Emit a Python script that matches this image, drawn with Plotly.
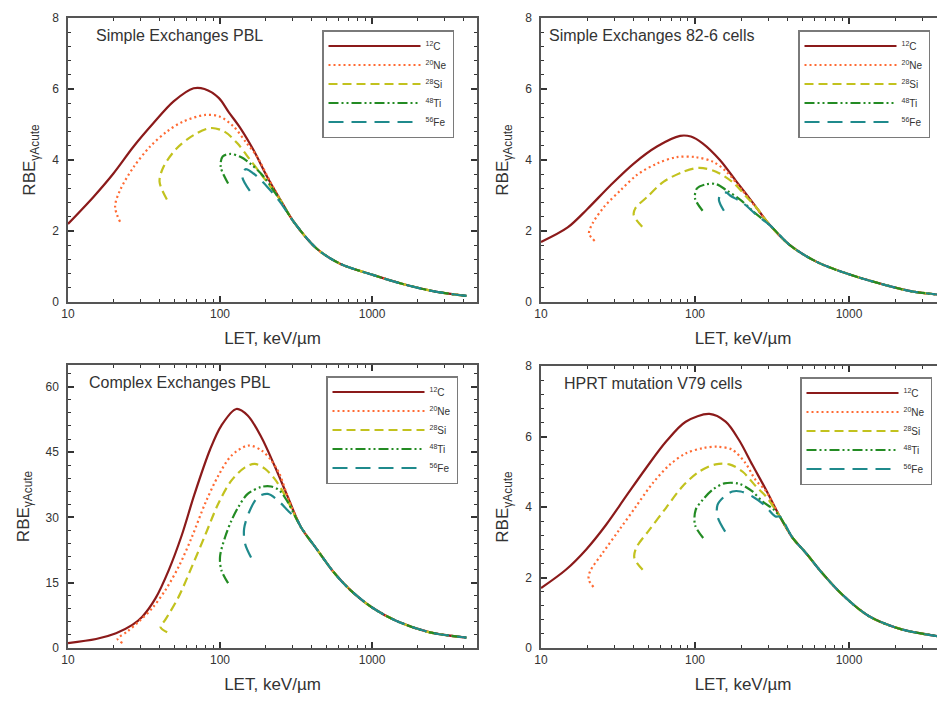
import plotly.graph_objects as go

# ---------------- data ----------------
IONS = ["<sup>12</sup>C", "<sup>20</sup>Ne", "<sup>28</sup>Si", "<sup>48</sup>Ti", "<sup>56</sup>Fe"]
COLORS = ["#8b1a1a", "#ff6a33", "#c2c21e", "#238b23", "#1f8a8c"]
DASHES = ["solid", "2px,3px", "9px,5px", "10px,3px,2px,3px,2px,3px", "15px,8px"]

PANEL_TITLES = ["Simple Exchanges PBL", "Simple Exchanges 82-6 cells",
                "Complex Exchanges PBL", "HPRT mutation V79 cells"]

# Panel 1: Simple Exchanges PBL
P1_TAIL_LET = [305, 433, 615, 1000, 1550, 2560, 4170]
P1_TAIL_RBE = [2.26, 1.5, 1.08, 0.77, 0.52, 0.3, 0.17]
P1_C_LET = [10, 14.7, 19.9, 27, 36.5, 49.5, 67, 79, 98, 114, 136, 166, 204, 250]
P1_C_RBE = [2.2, 2.96, 3.62, 4.38, 5.04, 5.65, 6.02, 6.0, 5.75, 5.35, 4.9, 4.28, 3.53, 2.87]
P1_NE_LET = [22, 20.4, 22, 27, 34.7, 44.7, 57, 80, 100, 123, 150, 175, 210, 250]
P1_NE_RBE = [2.26, 2.68, 3.15, 3.8, 4.38, 4.8, 5.08, 5.27, 5.22, 4.94, 4.47, 4.1, 3.45, 2.87]
P1_SI_LET = [44.7, 40, 42.5, 52, 67, 87, 107, 130, 158, 194, 250]
P1_SI_RBE = [2.89, 3.39, 3.81, 4.33, 4.7, 4.9, 4.8, 4.47, 4.0, 3.5, 2.86]
P1_TI_LET = [113, 101, 104, 117, 136, 158, 194, 250]
P1_TI_RBE = [3.34, 3.81, 4.1, 4.17, 4.09, 3.9, 3.53, 2.84]
P1_FE_LET = [157, 140, 147, 166, 204, 250]
P1_FE_RBE = [3.13, 3.53, 3.74, 3.62, 3.25, 2.8]

# Panel 2: Simple Exchanges 82-6 cells
P2_TAIL_LET = [307, 413, 617, 1000, 1750, 2560, 4170]
P2_TAIL_RBE = [2.16, 1.6, 1.13, 0.78, 0.47, 0.3, 0.19]
P2_C_LET = [10, 14.9, 20, 28.3, 40, 56.6, 80, 94, 112, 145, 186, 239]
P2_C_RBE = [1.69, 2.1, 2.62, 3.29, 3.9, 4.38, 4.68, 4.66, 4.47, 4.0, 3.39, 2.78]
P2_NE_LET = [22.3, 20.5, 21.6, 25.7, 32.9, 42, 56.6, 76, 101, 131, 160, 198, 239]
P2_NE_RBE = [1.72, 1.93, 2.21, 2.68, 3.15, 3.58, 3.9, 4.08, 4.08, 3.95, 3.67, 3.2, 2.76]
P2_SI_LET = [45.4, 40, 41, 48.9, 62.6, 84, 107, 137, 177, 216, 250]
P2_SI_RBE = [2.12, 2.45, 2.64, 2.96, 3.39, 3.67, 3.78, 3.67, 3.36, 2.96, 2.66]
P2_TI_LET = [112, 100, 103, 119, 137, 160, 198, 239]
P2_TI_RBE = [2.57, 2.92, 3.2, 3.32, 3.32, 3.15, 2.87, 2.55]
P2_FE_LET = [154, 143, 147, 160, 169, 206, 251]
P2_FE_RBE = [2.57, 2.87, 3.06, 3.08, 3.0, 2.78, 2.45]

# Panel 3: Complex Exchanges PBL
P3_TAIL_LET = [340, 437, 556, 720, 1000, 1450, 2400, 4170]
P3_TAIL_RBE = [27.8, 22.5, 17.5, 13.3, 9.3, 6.2, 3.6, 2.4]
P3_C_LET = [10, 15.3, 20.7, 26.5, 30.8, 37.6, 46, 56, 68, 86, 102, 128, 152, 187, 228, 279]
P3_C_RBE = [1.14, 2.06, 3.4, 5.3, 7.2, 11.4, 17.9, 25.9, 35.4, 45.6, 51.1, 54.9, 53.4, 48.4, 41.9, 34.7]
P3_NE_LET = [22.8, 21.2, 24.6, 29.3, 35.8, 43.7, 53.5, 65.3, 79.8, 97.5, 119, 153, 187, 217, 246, 279]
P3_NE_RBE = [1.14, 2.06, 3.81, 6.1, 9.15, 13.3, 18.7, 25.5, 33.2, 39.6, 44.2, 46.5, 45.4, 43.1, 40, 34.7]
P3_SI_LET = [44.9, 40.6, 43.7, 53.5, 65.3, 79.8, 97.5, 119, 146, 169, 197, 228, 264]
P3_SI_RBE = [3.6, 4.8, 6.5, 11.8, 18.7, 25.9, 33.2, 38.5, 41.5, 42.3, 41.2, 38.9, 35.4]
P3_TI_LET = [113, 102, 100, 108, 119, 132, 152, 187, 217, 246, 279]
P3_TI_RBE = [14.9, 17.9, 21, 25.5, 29.3, 32.4, 35.4, 37, 37.1, 36.2, 33.5]
P3_FE_LET = [160, 146, 144, 157, 178, 206, 233, 279, 323]
P3_FE_RBE = [20.8, 24, 27.4, 31.6, 34.7, 35.4, 34.3, 31.6, 29.3]

# Panel 4: HPRT mutation V79 cells
P4_TAIL_LET = [355, 431, 526, 671, 906, 1350, 2230, 4170]
P4_TAIL_RBE = [3.73, 3.12, 2.69, 2.12, 1.51, 0.9, 0.52, 0.31]
P4_C_LET = [10, 14.5, 19.6, 26.4, 35.6, 48, 64.7, 87, 124, 158, 193, 236, 289]
P4_C_RBE = [1.7, 2.22, 2.79, 3.49, 4.3, 5.1, 5.85, 6.42, 6.64, 6.42, 5.9, 5.19, 4.49]
P4_NE_LET = [21.9, 20.4, 20.8, 25.1, 32.2, 41.3, 53, 68.2, 87, 112, 140, 175, 213, 247, 289]
P4_NE_RBE = [1.73, 1.94, 2.17, 2.69, 3.35, 4.01, 4.67, 5.19, 5.52, 5.67, 5.71, 5.62, 5.24, 4.77, 4.45]
P4_SI_LET = [45.7, 40.4, 41.4, 50.5, 64.7, 82.8, 106, 136, 167, 204, 249, 289]
P4_SI_RBE = [2.22, 2.55, 2.83, 3.35, 3.97, 4.58, 5.0, 5.21, 5.21, 5.0, 4.58, 4.3]
P4_TI_LET = [113, 100, 101, 112, 130, 155, 193, 236, 275, 320]
P4_TI_RBE = [3.12, 3.49, 3.92, 4.2, 4.49, 4.67, 4.66, 4.44, 4.15, 3.95]
P4_FE_LET = [157, 140, 140, 155, 175, 198, 236, 281, 333]
P4_FE_RBE = [3.3, 3.73, 4.06, 4.3, 4.44, 4.44, 4.3, 4.06, 3.73]

PANELS = [
    (P1_TAIL_LET, P1_TAIL_RBE, [(P1_C_LET, P1_C_RBE), (P1_NE_LET, P1_NE_RBE), (P1_SI_LET, P1_SI_RBE), (P1_TI_LET, P1_TI_RBE), (P1_FE_LET, P1_FE_RBE)]),
    (P2_TAIL_LET, P2_TAIL_RBE, [(P2_C_LET, P2_C_RBE), (P2_NE_LET, P2_NE_RBE), (P2_SI_LET, P2_SI_RBE), (P2_TI_LET, P2_TI_RBE), (P2_FE_LET, P2_FE_RBE)]),
    (P3_TAIL_LET, P3_TAIL_RBE, [(P3_C_LET, P3_C_RBE), (P3_NE_LET, P3_NE_RBE), (P3_SI_LET, P3_SI_RBE), (P3_TI_LET, P3_TI_RBE), (P3_FE_LET, P3_FE_RBE)]),
    (P4_TAIL_LET, P4_TAIL_RBE, [(P4_C_LET, P4_C_RBE), (P4_NE_LET, P4_NE_RBE), (P4_SI_LET, P4_SI_RBE), (P4_TI_LET, P4_TI_RBE), (P4_FE_LET, P4_FE_RBE)]),
]

Y_RANGES = [[0, 8], [0, 8], [0, 65], [0, 8]]
Y_DTICK = [2, 2, 15, 2]
Y_MINOR = [0.4, 0.4, 3, 0.4]

# ---------------- layout geometry (page body has an 8 px margin) ----------------
W, H = 937, 696
X_DOM = [[60 / W, 469 / W], [533 / W, 1.0], [60 / W, 469 / W], [533 / W, 1.0]]
X_RANGE = [[1, 3.69], [1, 3.623], [1, 3.69], [1, 3.623]]
Y_DOM = [[1 - 294 / H, 1 - 10 / H], [1 - 294 / H, 1 - 10 / H],
         [1 - 640 / H, 1 - 357 / H], [1 - 640 / H, 1 - 358 / H]]
LEG_POS = [(314 / W, 1 - 22 / H), (790 / W, 1 - 22 / H),
           (318 / W, 1 - 368 / H), (792 / W, 1 - 369 / H)]
TITLE_POS = [(0.063, 0.937), (0.016, 0.937), (0.047, 0.937), (0.052, 0.937)]

FONT = "Liberation Sans, Arial, sans-serif"
AXC = "#555555"
TICKC = "#333333"
TXT = "#333333"

fig = go.Figure()
layout = dict(
    width=W, height=H, margin=dict(l=0, r=0, t=0, b=0),
    paper_bgcolor="white", plot_bgcolor="white", template="none",
    font=dict(family=FONT, color=TXT), showlegend=True,
)

for p, (tail_x, tail_y, series) in enumerate(PANELS):
    k = "" if p == 0 else str(p + 1)
    leg = "legend" + k
    for i, (hx, hy) in enumerate(series):
        fig.add_trace(go.Scatter(
            x=list(hx) + list(tail_x), y=list(hy) + list(tail_y),
            mode="lines", name=IONS[i], legend=leg,
            line=dict(color=COLORS[i], width=2.2, dash=DASHES[i], shape="spline", smoothing=0.9),
            xaxis="x" + k, yaxis="y" + k, showlegend=True,
        ))
    right = p in (1, 3)
    layout["xaxis" + k] = dict(
        type="log", domain=X_DOM[p], range=X_RANGE[p], anchor="y" + k,
        dtick=1, tickformat="d",
        ticks="inside", ticklen=6, tickwidth=1.5, tickcolor=TICKC,
        showline=True, linecolor=AXC, linewidth=1.5, mirror="ticks",
        showgrid=False, zeroline=False,
        minor=dict(ticks="inside", ticklen=3, tickwidth=1.3, tickcolor=TICKC),
        tickfont=dict(size=12, color=TXT, family=FONT),
        title=dict(text="LET, keV/µm", font=dict(size=17, color=TXT, family=FONT), standoff=12),
    )
    layout["yaxis" + k] = dict(
        domain=Y_DOM[p], range=Y_RANGES[p], anchor="x" + k,
        dtick=Y_DTICK[p], tick0=0,
        ticks="inside", ticklen=6, tickwidth=1.5, tickcolor=TICKC,
        showline=True, linecolor=AXC, linewidth=1.5,
        mirror=False if right else "ticks",
        showgrid=False, zeroline=False,
        minor=dict(ticks="inside", ticklen=3, tickwidth=1.3, tickcolor=TICKC, dtick=Y_MINOR[p], tick0=0),
        tickfont=dict(size=12, color=TXT, family=FONT),
        ticklabelstandoff=5,
        title=dict(text="RBE<sub>γAcute</sub>", font=dict(size=17, color=TXT, family=FONT), standoff=12),
    )
    layout[leg] = dict(
        x=LEG_POS[p][0], y=LEG_POS[p][1], xanchor="left", yanchor="top",
        bgcolor="white", bordercolor="#7a7a7a", borderwidth=1.5,
        font=dict(size=10, color=TXT, family=FONT), itemwidth=92,
        tracegroupgap=0, itemclick=False,
    )

annotations = []
for p, t in enumerate(PANEL_TITLES):
    k = "" if p == 0 else str(p + 1)
    annotations.append(dict(
        text=t, xref="x" + k + " domain", yref="y" + k + " domain",
        x=TITLE_POS[p][0], y=TITLE_POS[p][1], xanchor="left", yanchor="middle",
        showarrow=False, font=dict(size=16, color=TXT, family=FONT),
    ))
layout["annotations"] = annotations

fig.update_layout(**layout)
fig.write_html("out.html")
